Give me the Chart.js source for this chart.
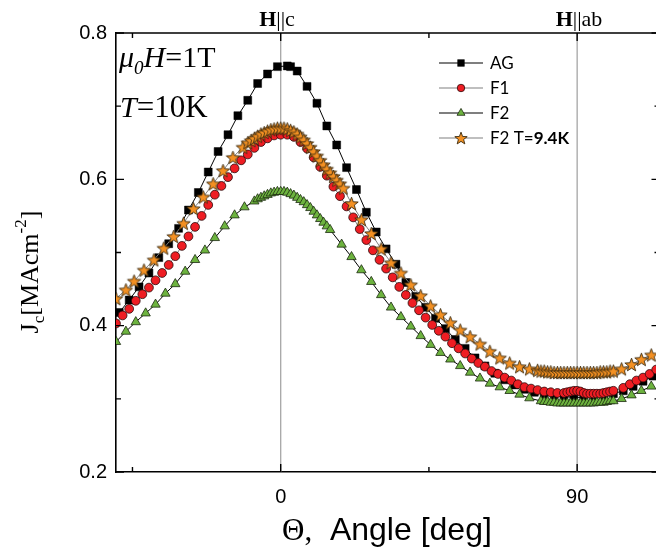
<!DOCTYPE html>
<html>
<head>
<meta charset="utf-8">
<script src="https://cdn.jsdelivr.net/npm/chart.js@4"></script>
<style>
  html, body { margin: 0; padding: 0; background: #fff; overflow: hidden; }
  body { width: 656px; height: 556px; }
  canvas { display: block; }
</style>
</head>
<body>
<canvas id="jc" width="670" height="556"></canvas>
<script>
// Jc vs field angle (angle in deg, Jc in MA/cm^2)
const seriesNames = ['AG', 'F1', 'F2', 'F2 T=9.4K'];

const agAngle = [-49, -46, -43, -40, -37, -34, -31, -28, -25, -22, -19, -16, -13, -10, -7, -4, -1, 2, 3, 5,
  8, 11, 14, 17, 20, 23, 26, 29, 32, 35, 38, 41, 44, 47, 50, 53, 56, 59, 62, 65,
  68, 71, 74, 77, 80, 83, 86, 89, 92, 95, 98, 101, 104, 107, 110, 113];
const agJc = [0.418, 0.435, 0.453, 0.472, 0.493, 0.512, 0.533, 0.558, 0.582, 0.610, 0.638, 0.661, 0.687, 0.708, 0.731, 0.744, 0.754, 0.755, 0.754, 0.748,
  0.727, 0.704, 0.673, 0.647, 0.616, 0.586, 0.555, 0.528, 0.505, 0.484, 0.459, 0.440, 0.425, 0.410, 0.396, 0.381, 0.369, 0.356, 0.345, 0.335,
  0.326, 0.319, 0.313, 0.309, 0.306, 0.304, 0.303, 0.302, 0.302, 0.303, 0.304, 0.307, 0.311, 0.317, 0.324, 0.331];

const f1Angle = [-50, -48, -46, -44, -42, -40, -38, -36, -34, -32, -30, -28, -26, -24, -22, -20, -18, -16, -14, -12, -10, -8, -6, -4, -2,
  0, 2, 4, 6, 8, 10, 12, 14, 16, 18, 20, 22, 24, 26, 28, 30, 32, 34, 36, 38, 40, 42, 44, 46, 48, 50, 52, 54, 56, 58, 60, 62, 64, 66, 68, 70, 72, 74, 76, 78, 80, 82, 84, 86,
  87, 88, 89, 90, 91, 92, 93, 94, 95, 96, 97, 98, 99, 100, 101,
  104, 106, 108, 110, 112, 114];
const f1Jc = [0.403, 0.414, 0.423, 0.434, 0.443, 0.452, 0.462, 0.472, 0.483, 0.495, 0.509, 0.522, 0.535, 0.550, 0.565, 0.579, 0.591, 0.603, 0.615, 0.626, 0.634, 0.643, 0.651, 0.656, 0.660,
  0.661, 0.661, 0.658, 0.651, 0.642, 0.630, 0.617, 0.605, 0.590, 0.577, 0.563, 0.548, 0.532, 0.517, 0.503, 0.490, 0.478, 0.466, 0.453, 0.442, 0.431, 0.421, 0.411, 0.401, 0.393, 0.385, 0.376, 0.369, 0.362, 0.355, 0.349, 0.344, 0.338, 0.334, 0.329, 0.325, 0.320, 0.316, 0.314, 0.312, 0.310, 0.309, 0.308, 0.308,
  0.309, 0.310, 0.311, 0.311, 0.310, 0.308, 0.307, 0.307, 0.307, 0.307, 0.307, 0.308, 0.309, 0.310, 0.311,
  0.315, 0.320, 0.325, 0.329, 0.334, 0.340];

const f2Angle = [-50, -47, -44, -41, -38, -35, -32, -29, -26, -23, -20, -17, -14, -11, -8,
  -7, -6, -5, -4, -3, -2, -1, 0, 1, 2, 3, 4, 5, 6, 7, 8, 9, 10, 11, 12, 13, 14, 15,
  18.5, 21.5, 24.5, 27.5, 30.5, 33.5, 36.5, 39.5, 42.5, 45.5, 48.5, 51.5, 54.5, 57.5, 60.5, 63.5, 66.5, 69.5, 72.5, 75.5,
  79, 80, 81, 82, 83, 84, 85, 86, 87, 88, 89, 90, 91, 92, 93, 94, 95, 96, 97, 98, 99, 100, 101,
  103.5, 106.5, 109.5, 112.5];
const f2Jc = [0.378, 0.392, 0.405, 0.417, 0.429, 0.444, 0.457, 0.474, 0.490, 0.503, 0.520, 0.536, 0.551, 0.562, 0.570,
  0.573, 0.575, 0.577, 0.579, 0.581, 0.582, 0.583, 0.583, 0.583, 0.582, 0.580, 0.578, 0.575, 0.572, 0.569, 0.565, 0.561, 0.556, 0.551, 0.546, 0.541, 0.536, 0.531,
  0.511, 0.494, 0.476, 0.460, 0.442, 0.425, 0.412, 0.399, 0.386, 0.374, 0.363, 0.354, 0.345, 0.336, 0.328, 0.321, 0.316, 0.311, 0.306, 0.301,
  0.297, 0.296, 0.296, 0.295, 0.295, 0.294, 0.294, 0.294, 0.294, 0.294, 0.294, 0.294, 0.294, 0.294, 0.294, 0.294, 0.294, 0.295, 0.295, 0.295, 0.296, 0.297, 0.297,
  0.300, 0.305, 0.311, 0.317];

const f2lowTAngle = [-50, -47, -44.5, -41.5, -38.5, -35.5, -32.5, -29.5, -26.5, -23.5, -20.5, -17.5, -14.5, -11.5,
  -10, -9, -8, -7, -6, -5, -4, -3, -2, -1, 0, 1, 2, 3, 4, 5, 6, 7, 8, 9, 10, 11, 12, 13, 14, 15, 16, 17, 18, 19,
  21.5, 24.5, 27.5, 30.5, 33.5, 36.5, 39.5, 42.5, 45.5, 48.5, 51.5, 54.5, 57.5, 60.5, 63.5, 66.5, 69.5, 72.5, 75.5,
  78, 79, 80, 81, 82, 83, 84, 85, 86, 87, 88, 89, 90, 91, 92, 93, 94, 95, 96, 97, 98, 99, 100, 101,
  103.5, 106.5, 109.5, 112.5];
const f2lowTJc = [0.437, 0.449, 0.461, 0.476, 0.490, 0.506, 0.522, 0.540, 0.560, 0.576, 0.594, 0.612, 0.630, 0.644,
  0.650, 0.653, 0.656, 0.659, 0.662, 0.664, 0.666, 0.668, 0.669, 0.670, 0.670, 0.670, 0.669, 0.667, 0.665, 0.662, 0.658, 0.654, 0.649, 0.644, 0.638, 0.632, 0.626, 0.620, 0.614, 0.609, 0.604, 0.599, 0.594, 0.588,
  0.567, 0.545, 0.526, 0.505, 0.486, 0.472, 0.456, 0.441, 0.427, 0.415, 0.404, 0.394, 0.385, 0.375, 0.365, 0.356, 0.349, 0.344, 0.341,
  0.339, 0.338, 0.338, 0.337, 0.337, 0.336, 0.336, 0.336, 0.336, 0.336, 0.336, 0.336, 0.336, 0.336, 0.336, 0.336, 0.336, 0.336, 0.336, 0.337, 0.337, 0.337, 0.338, 0.338,
  0.341, 0.347, 0.354, 0.360];

// axis ticks
const xMajorTicks = [0, 90];
const xMinorTicks = [-45, 45];
const yMajorTicks = [0.2, 0.4, 0.6, 0.8];
const yMinorTicks = [0.3, 0.5, 0.7];
// field directions marked with a vertical line
const fieldAngles = [0, 90];
const fieldLabels = [['H', '||', 'c'], ['H', '||', 'ab']];

const SERIF = '"Liberation Serif", "DejaVu Serif", serif';
const SANS = '"Liberation Sans", Arial, sans-serif';

function pairs(xs, ys) {
  return xs.map((x, i) => ({ x: x, y: ys[i] }));
}

// filled 5 point star, chart.js 'star' is only an asterisk
function makeStar(r, fill) {
  const c = document.createElement('canvas');
  const s = Math.ceil(r * 2 + 3);
  c.width = s; c.height = s;
  const g = c.getContext('2d');
  g.translate(s / 2, s / 2 + r * 0.1);
  g.beginPath();
  for (let i = 0; i < 10; i++) {
    const rr = i % 2 ? r * 0.42 : r;
    const a = -Math.PI / 2 + i * Math.PI / 5;
    g.lineTo(rr * Math.cos(a), rr * Math.sin(a));
  }
  g.closePath();
  g.fillStyle = fill;
  g.fill();
  g.lineWidth = 0.9;
  g.strokeStyle = '#3a2a10';
  g.stroke();
  return c;
}
const starMark = makeStar(7, '#f39022');
const starMarkSmall = makeStar(6.5, '#f39022');

// draw runs of text with their own font and baseline shift
function textRuns(ctx, x, y, runs) {
  let cx = x;
  runs.forEach(r => {
    ctx.font = r.font;
    ctx.fillText(r.t, cx, y + (r.dy || 0));
    cx += ctx.measureText(r.t).width;
  });
  return cx;
}
function runsWidth(ctx, runs) {
  let w = 0;
  runs.forEach(r => { ctx.font = r.font; w += ctx.measureText(r.t).width; });
  return w;
}

const frame = {
  id: 'frame',
  beforeDatasetsDraw(chart) {
    const { ctx, chartArea: a, scales: { x } } = chart;
    ctx.save();
    ctx.strokeStyle = '#a6a6a6';
    ctx.lineWidth = 1.3;
    fieldAngles.forEach(v => {
      const px = x.getPixelForValue(v);
      ctx.beginPath(); ctx.moveTo(px, a.top); ctx.lineTo(px, a.bottom); ctx.stroke();
    });
    ctx.restore();
  },
  afterDraw(chart) {
    const { ctx, chartArea: a, scales: { x, y } } = chart;
    ctx.save();
    ctx.strokeStyle = '#000';
    ctx.lineWidth = 1.6;
    ctx.beginPath();
    ctx.moveTo(a.left, a.top); ctx.lineTo(a.right, a.top); ctx.lineTo(a.right, a.bottom);
    ctx.stroke();

    ctx.lineWidth = 1.4;
    const xt = xMajorTicks.map(v => [v, 8]).concat(xMinorTicks.map(v => [v, 5]));
    xt.forEach(([v, len]) => {
      const px = x.getPixelForValue(v);
      ctx.beginPath();
      ctx.moveTo(px, a.bottom); ctx.lineTo(px, a.bottom - len);
      ctx.moveTo(px, a.top); ctx.lineTo(px, a.top + len);
      ctx.stroke();
    });
    const yt = yMajorTicks.map(v => [v, 8]).concat(yMinorTicks.map(v => [v, 5]));
    yt.forEach(([v, len]) => {
      const py = y.getPixelForValue(v);
      ctx.beginPath();
      ctx.moveTo(a.left, py); ctx.lineTo(a.left + len, py);
      ctx.moveTo(a.right, py); ctx.lineTo(a.right - len, py);
      ctx.stroke();
    });

    ctx.fillStyle = '#000';
    ctx.textBaseline = 'alphabetic';
    ctx.textAlign = 'left';

    // H||c and H||ab above the plot, the bars sit on the line
    fieldAngles.forEach((v, i) => {
      const [h, bars, dir] = fieldLabels[i];
      const px = x.getPixelForValue(v);
      ctx.font = 'bold 22px ' + SERIF;
      const hw = ctx.measureText(h).width;
      ctx.font = '22px ' + SERIF;
      const bw = ctx.measureText(bars).width;
      const x0 = px - bw / 2 - hw;
      textRuns(ctx, x0, 26, [
        { t: h, font: 'bold 22px ' + SERIF },
        { t: bars, font: '22px ' + SERIF },
        { t: dir, font: '22px ' + SERIF }
      ]);
    });

    // conditions
    textRuns(ctx, 119, 67, [
      { t: 'μ', font: 'italic 30px ' + SERIF },
      { t: '0', font: 'italic 19px ' + SERIF, dy: 7 },
      { t: 'H', font: 'italic 30px ' + SERIF },
      { t: '=1T', font: '30px ' + SERIF }
    ]);
    textRuns(ctx, 120, 117, [
      { t: 'T', font: 'italic 30px ' + SERIF },
      { t: '=10K', font: '31px ' + SERIF }
    ]);

    // x title
    const xr = [
      { t: 'Θ,', font: '31px ' + SERIF },
      { t: '  Angle [deg]', font: '32px ' + SANS }
    ];
    textRuns(ctx, 282, 540, xr);

    // y title, rotated
    const yr = [
      { t: 'J', font: '26px ' + SERIF },
      { t: 'c', font: '17px ' + SERIF, dy: 6 },
      { t: '[MAcm', font: '26px ' + SERIF },
      { t: '-2', font: '17px ' + SERIF, dy: -12 },
      { t: ']', font: '26px ' + SERIF }
    ];
    const yw = runsWidth(ctx, yr);
    ctx.save();
    ctx.translate(38, 272);
    ctx.rotate(-Math.PI / 2);
    textRuns(ctx, -yw / 2, 0, yr);
    ctx.restore();

    // key
    chart.data.datasets.forEach((ds, i) => {
      const ly = 63 + i * 25;
      ctx.strokeStyle = ds.borderColor;
      ctx.lineWidth = 1.2;
      ctx.beginPath(); ctx.moveTo(439, ly); ctx.lineTo(483, ly); ctx.stroke();
      if (ds.pointStyle instanceof HTMLCanvasElement) {
        const m = starMarkSmall;
        ctx.drawImage(m, 461 - m.width / 2, ly - m.height / 2);
      } else {
        ctx.fillStyle = ds.pointBackgroundColor;
        ctx.strokeStyle = ds.pointBorderColor;
        ctx.lineWidth = ds.pointBorderWidth;
        Chart.helpers.drawPoint(ctx, { pointStyle: ds.pointStyle, radius: ds.pointRadius * 0.85, rotation: 0, borderWidth: ds.pointBorderWidth }, 461, ly);
      }
      ctx.fillStyle = '#000';
      ctx.textBaseline = 'middle';
      const m = ds.label.match(/^(.*T=)(.+)$/);
      const runs = m
        ? [{ t: m[1], font: '17px Lato' }, { t: m[2], font: 'bold 17px Lato' }]
        : [{ t: ds.label, font: '17px Lato' }];
      textRuns(ctx, 490, ly + 1, runs);
      ctx.textBaseline = 'alphabetic';
    });
    ctx.restore();
  }
};

new Chart(document.getElementById('jc'), {
  type: 'line',
  data: {
    datasets: [
      {
        label: seriesNames[0], data: pairs(agAngle, agJc), order: 4,
        borderColor: '#000', borderWidth: 1,
        pointStyle: 'rect', pointRadius: 5.6,
        pointBackgroundColor: '#000', pointBorderColor: '#000', pointBorderWidth: 0.5
      },
      {
        label: seriesNames[1], data: pairs(f1Angle, f1Jc), order: 3,
        borderColor: '#808080', borderWidth: 1,
        pointStyle: 'circle', pointRadius: 4.4,
        pointBackgroundColor: '#ee1d23', pointBorderColor: '#2a0a0a', pointBorderWidth: 0.8
      },
      {
        label: seriesNames[2], data: pairs(f2Angle, f2Jc), order: 2,
        borderColor: '#000', borderWidth: 1,
        pointStyle: 'triangle', pointRadius: 5.4,
        pointBackgroundColor: '#6db33f', pointBorderColor: '#1c2a10', pointBorderWidth: 0.8
      },
      {
        label: seriesNames[3], data: pairs(f2lowTAngle, f2lowTJc), order: 1,
        borderColor: '#808080', borderWidth: 1,
        pointStyle: starMark, pointRadius: 6,
        pointBackgroundColor: '#f39022', pointBorderColor: '#3a2a10', pointBorderWidth: 0.9
      }
    ]
  },
  options: {
    responsive: false,
    animation: false,
    layout: { padding: { left: 0, top: 33, right: 10.5, bottom: 0 } },
    plugins: { legend: { display: false }, tooltip: { enabled: false } },
    scales: {
      x: {
        type: 'linear', min: -50, max: 115,
        afterBuildTicks: s => { s.ticks = xMajorTicks.map(v => ({ value: v })); },
        afterFit: s => { s.height = 84; },
        grid: { display: false, drawTicks: false },
        border: { display: true, color: '#000', width: 1.6 },
        ticks: { color: '#000', font: { family: SANS, size: 20 }, padding: 13, callback: v => String(v) }
      },
      y: {
        type: 'linear', min: 0.2, max: 0.8,
        afterBuildTicks: s => { s.ticks = yMajorTicks.map(v => ({ value: v })); },
        afterFit: s => { s.width = 116; },
        grid: { display: false, drawTicks: false },
        border: { display: true, color: '#000', width: 1.6 },
        ticks: { color: '#000', font: { family: SANS, size: 20 }, padding: 9, callback: v => v.toFixed(1) }
      }
    }
  },
  plugins: [frame]
});
</script>
</body>
</html>
